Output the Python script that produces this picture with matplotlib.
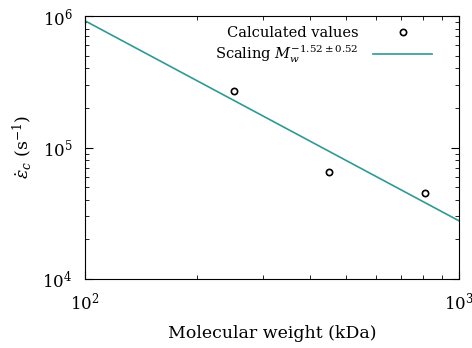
import matplotlib
matplotlib.use('Agg')
import matplotlib.pyplot as plt
from matplotlib.ticker import NullFormatter
import numpy as np

plt.rcParams['font.family'] = 'DejaVu Serif'
plt.rcParams['mathtext.fontset'] = 'dejavuserif'
plt.rcParams['font.size'] = 11

# calculated values
mw = [250, 450, 810]
rate = [2.7e5, 6.5e4, 4.5e4]

# scaling fit
fit_x = [100, 1000]
fit_prefactor = 9.2e5
fit_exp = -1.52

fig = plt.figure(figsize=(4.72, 3.48), dpi=100)
ax = fig.add_axes([0.180, 0.198, 0.792, 0.756])

ax.plot(mw, rate, 'o', mfc='none', mec='black', mew=1.2, ms=4.5,
        label='Calculated values')
fx = np.array(fit_x, dtype=float)
ax.plot(fx, fit_prefactor * (fx / 100.0) ** fit_exp, color='#2e9a93', lw=1.2,
        label=r'Scaling $M_w^{-1.52\pm0.52}$')

ax.set_xscale('log')
ax.set_yscale('log')
ax.set_xlim(100, 1000)
ax.set_ylim(1e4, 1e6)
ax.xaxis.set_minor_formatter(NullFormatter())
ax.yaxis.set_minor_formatter(NullFormatter())
ax.tick_params(which='both', direction='in', top=True, right=True, labelsize=12)
ax.tick_params(which='major', length=6)
ax.tick_params(which='minor', length=3)
ax.tick_params(axis='x', pad=9)
ax.tick_params(axis='y', pad=9)
ax.set_xlabel('Molecular weight (kDa)', labelpad=8, fontsize=12.5)
ax.set_ylabel(r'$\dot{\varepsilon}_c$ (s$^{-1}$)', labelpad=6, fontsize=12.5)

ax.legend(loc='upper right', bbox_to_anchor=(0.955, 1.0), frameon=False,
          markerfirst=False, fontsize=10.5, handlelength=4.0,
          handletextpad=1.0, borderaxespad=0.3, labelspacing=0.25)

fig.savefig('out.png', dpi=100)
